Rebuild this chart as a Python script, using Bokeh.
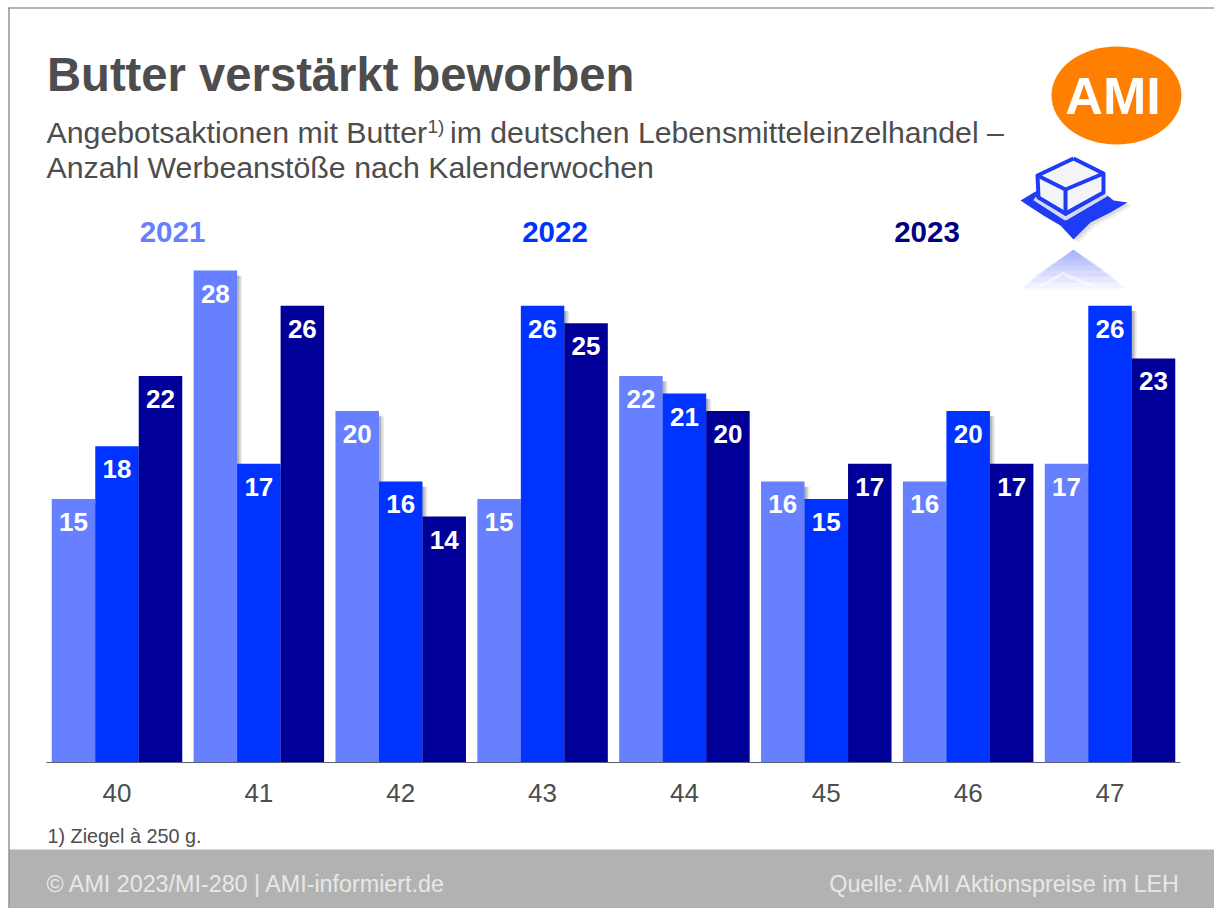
from bokeh.plotting import figure
from bokeh.models import Label, FixedTicker, Range1d, BoxAnnotation, ColumnDataSource
from bokeh.core.properties import value
from bokeh.embed import file_html
from bokeh.resources import INLINE

weeks = ["40", "41", "42", "43", "44", "45", "46", "47"]
years = ["2021", "2022", "2023"]
v2021 = [15, 28, 20, 15, 22, 16, 16, 17]
v2022 = [18, 17, 16, 26, 21, 15, 20, 26]
v2023 = [22, 26, 14, 25, 20, 17, 17, 23]
colors = ["#6680ff", "#0033ff", "#000099"]
year_colors = ["#6680ff", "#0033ff", "#000080"]

FONT = "Liberation Sans"
GREY = "#4d4d4d"

# page pixels -> data coordinates (for header/footer decoration only)
PITCH = 141.86
UNIT = 17.57
BASE = 762
def X(px): return (px - 116.5) / PITCH
def Y(py): return (BASE - py) / UNIT

p = figure(width=1214, height=908, output_backend="svg", toolbar_location=None,
           x_range=Range1d(X(0), X(1214)), y_range=Range1d(Y(908), Y(0)),
           min_border_left=0, min_border_right=0, min_border_top=0, min_border_bottom=0,
           outline_line_color=None, background_fill_color="white", border_fill_color="white")
p.grid.visible = False
p.yaxis.visible = False
ax = p.xaxis[0]
ax.fixed_location = 0
ax.ticker = FixedTicker(ticks=list(range(len(weeks))))
ax.major_label_overrides = {i: w for i, w in enumerate(weeks)}
ax.bounds = (X(46), X(1180))
ax.major_tick_line_color = None
ax.minor_tick_line_color = None
ax.axis_line_color = "#5a6070"
ax.axis_line_width = 1
ax.major_label_standoff = 15
ax.major_label_text_font = FONT
ax.major_label_text_font_size = "26px"
ax.major_label_text_color = GREY

offset = 43.5 / PITCH
series = [v2021, v2022, v2023]
for k, vals in enumerate(series):
    xs = [i + (k - 1) * offset for i in range(len(vals))]
    src = ColumnDataSource(dict(x=xs, top=vals))
    if k < 2:
        for shift, alpha in ((5 / PITCH, 0.10), (3.5 / PITCH, 0.14), (2 / PITCH, 0.20)):
            p.vbar(x=[a + shift for a in xs], top=[v - 0.3 for v in vals], bottom=0, width=offset,
                   fill_color="#404040", fill_alpha=alpha, line_color=None)
    p.vbar(x="x", top="top", bottom=0, width=offset, source=src,
           fill_color=colors[k], line_color=None)

for k, vals in enumerate(series):
    xs = [i + (k - 1) * offset for i in range(len(vals))]
    src = ColumnDataSource(dict(x=xs, y=vals, label=[str(v) for v in vals]))
    p.text(x="x", y="y", text="label", source=src, y_offset=23, text_align="center",
           text_baseline="middle", text_color="white", text_font=value(FONT),
           text_font_style="bold", text_font_size="26px")

def label(px, py, text, size, color=GREY, bold=False, align="left"):
    p.add_layout(Label(x=X(px), y=Y(py), text=text,
                       text_font=FONT, text_font_size=f"{size}px",
                       text_color=color, text_font_style="bold" if bold else "normal",
                       text_align=align, text_baseline="middle"))

def box(l, r, t, b, color):
    p.add_layout(BoxAnnotation(left=X(l), right=X(r), top=Y(t), bottom=Y(b), level="underlay",
                               fill_color=color, fill_alpha=1, line_color=None))

box(9, 1214, 849, 908, "#b2b2b2")
box(8, 9, 7, 908, "#5f5f5f")
box(8, 1214, 7, 8, "#6e6e6e")

label(46.5, 73.5, "Butter verstärkt beworben", 47.2, bold=True)
label(46, 132, "Angebotsaktionen mit Butter", 30.3)
label(427, 126, "1)", 19)
label(449.5, 132, "im deutschen Lebensmitteleinzelhandel –", 30.2)
label(46, 167, "Anzahl Werbeanstöße nach Kalenderwochen", 30.3)
for px, yr, c in zip((172, 554.5, 926.5), years, year_colors):
    label(px, 231, yr, 29.5, color=c, bold=True, align="center")
label(47, 835, "1) Ziegel à 250 g.", 19.8)
label(46, 883.5, "© AMI 2023/MI-280 | AMI-informiert.de", 23.3, color="#e8e8e8")
label(1181, 883.5, "Quelle: AMI Aktionspreise im LEH", 23.4, color="#e8e8e8", align="right")

# AMI logo
p.ellipse(x=[X(1116)], y=[Y(95)], width=[130 / PITCH], height=[98 / UNIT],
          fill_color="#ff7f00", line_color=None)
p.text(x=[X(1112.5)], y=[Y(95)], text=["AMI"], text_align="center", text_baseline="middle",
       text_color="white", text_font=value(FONT), text_font_style="bold", text_font_size="52px")

# butter icon
def poly(pts, **kw):
    p.patch([X(a) for a, _ in pts], [Y(b) for _, b in pts], line_color=None, **kw)
def lines(pts, **kw):
    p.line([X(a) for a, _ in pts], [Y(b) for _, b in pts], **kw)

wrap = [(1020, 200), (1035, 191), (1103, 192), (1113, 200), (1127, 202), (1110, 212), (1090, 222),
        (1073, 239), (1060, 225), (1043, 215)]
for dx, a in ((5, 0.10), (3, 0.18)):
    poly([(x + dx, y + dx * 0.7) for x, y in wrap], fill_color="#808080", fill_alpha=a)
poly(wrap, fill_color="#1e3cf5")
boxp = [(1073, 158), (1103, 173), (1103, 192), (1065, 213), (1038, 197), (1037, 175), (1073, 158)]
lines([(1034, 198), (1065, 218), (1106, 194)], line_color="#d4d8f4", line_width=4)
poly(boxp, fill_color="#f4f4f8")
lines(boxp, line_color="#1e3cf5", line_width=4, line_join="round")
lines([(1037, 175), (1065, 189), (1103, 173)], line_color="#1e3cf5", line_width=4)
lines([(1065, 189), (1065, 213)], line_color="#1e3cf5", line_width=4)

# fading reflection
for h, w in ((288, 52), (282, 46), (276, 40), (270, 30), (265, 22), (260, 14), (256, 8), (252, 3)):
    poly([(1073, 249), (1073 + w, h), (1073 - w, h)], fill_color="#3a50f0", fill_alpha=0.07)
lines([(1040, 286), (1062, 273), (1094, 286)], line_color="white", line_width=3, line_alpha=0.55)

open("out.html", "w").write(file_html(p, INLINE))
